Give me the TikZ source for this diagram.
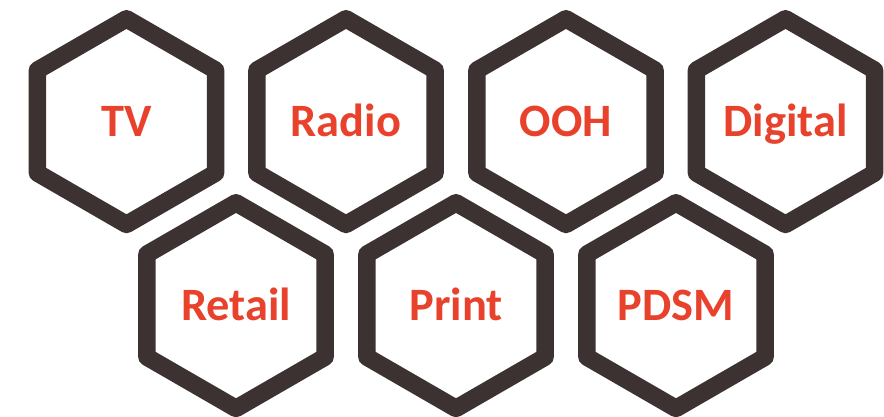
\documentclass[tikz,border=0pt]{standalone}
\usepackage{fontspec}
\setmainfont{Carlito}
\usetikzlibrary{shapes.geometric}
\definecolor{hexline}{HTML}{3D3232}
\definecolor{hexred}{HTML}{E8412C}

\begin{document}
\begin{tikzpicture}[
  x=0.025cm, y=-0.025cm,
  hex/.style={regular polygon, regular polygon sides=6, shape border rotate=30,
    draw=hexline, line width=12.5pt, line join=round, minimum size=5.14cm,
    inner sep=0pt, text height=21.3pt, text depth=0pt,
    text=hexred, font=\fontsize{33}{33}\selectfont\bfseries}]
\useasboundingbox (0,0) rectangle (884,416);
% top row
\node[hex] (tv)      at (126.5,121.6) {TV};
\node[hex] (radio)   at (346,121.6)   {Radio};
\node[hex] (ooh)     at (566,121.6)   {OOH};
\node[hex] (digital) at (785.5,121.6) {Digital};
% bottom row
\node[hex] (retail)  at (236,305.6)   {Retail};
\node[hex] (print)   at (456,305.6)   {Print};
\node[hex] (pdsm)    at (676,305.6)   {PDSM};
\end{tikzpicture}
\end{document}
